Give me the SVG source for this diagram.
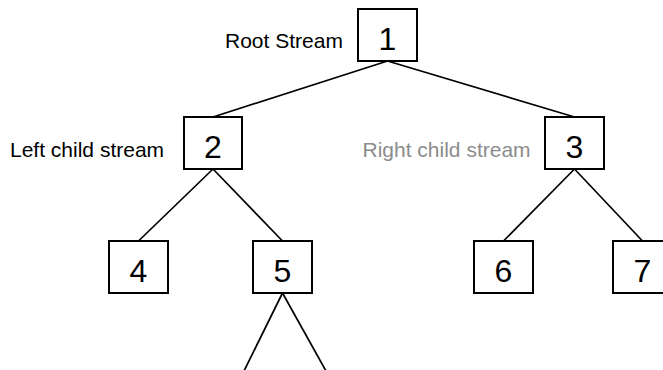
<svg xmlns="http://www.w3.org/2000/svg" width="663" height="370" viewBox="0 0 663 370">
<style>
.box{fill:#fff;stroke:#000;stroke-width:2}
.num{font-family:"Liberation Sans",Arial,sans-serif;font-size:32px;fill:#000;text-anchor:middle}
.lbl{font-family:"Liberation Sans",Arial,sans-serif;font-size:21px;fill:#000}
.gray{fill:#8c8c8c}
.edge{stroke:#000;stroke-width:1.7;fill:none}
</style>
<rect width="663" height="370" fill="#fff"/>
<g id="connectors">
<line class="edge" x1="387.5" y1="61" x2="213" y2="117"/>
<line class="edge" x1="387.5" y1="61" x2="574.5" y2="117"/>
<line class="edge" x1="213" y1="169" x2="138.5" y2="241"/>
<line class="edge" x1="213" y1="169" x2="282.5" y2="241"/>
<line class="edge" x1="574.5" y1="169" x2="503.5" y2="241"/>
<line class="edge" x1="574.5" y1="169" x2="642.5" y2="241"/>
<line class="edge" x1="282.5" y1="293" x2="244" y2="371"/>
<line class="edge" x1="282.5" y1="293" x2="326" y2="371"/>
</g>
<g id="node1">
<rect class="box" x="358" y="9" width="59" height="52"/>
<text class="num" x="387.5" y="50">1</text>
<text class="lbl" x="225" y="48">Root Stream</text>
</g>
<g id="node2">
<rect class="box" x="184" y="117" width="58" height="52"/>
<text class="num" x="213" y="158">2</text>
<text class="lbl" x="10" y="157">Left child stream</text>
</g>
<g id="node3">
<rect class="box" x="545" y="117" width="59" height="52"/>
<text class="num" x="574.5" y="158">3</text>
<text class="lbl gray" x="362.5" y="157">Right child stream</text>
</g>
<g id="node4">
<rect class="box" x="109" y="241" width="59" height="52"/>
<text class="num" x="138.5" y="282">4</text>
</g>
<g id="node5">
<rect class="box" x="253" y="241" width="59" height="52"/>
<text class="num" x="282.5" y="282">5</text>
</g>
<g id="node6">
<rect class="box" x="474" y="241" width="59" height="52"/>
<text class="num" x="503.5" y="282">6</text>
</g>
<g id="node7">
<rect class="box" x="613" y="241" width="59" height="52"/>
<text class="num" x="642.5" y="282">7</text>
</g>
</svg>
